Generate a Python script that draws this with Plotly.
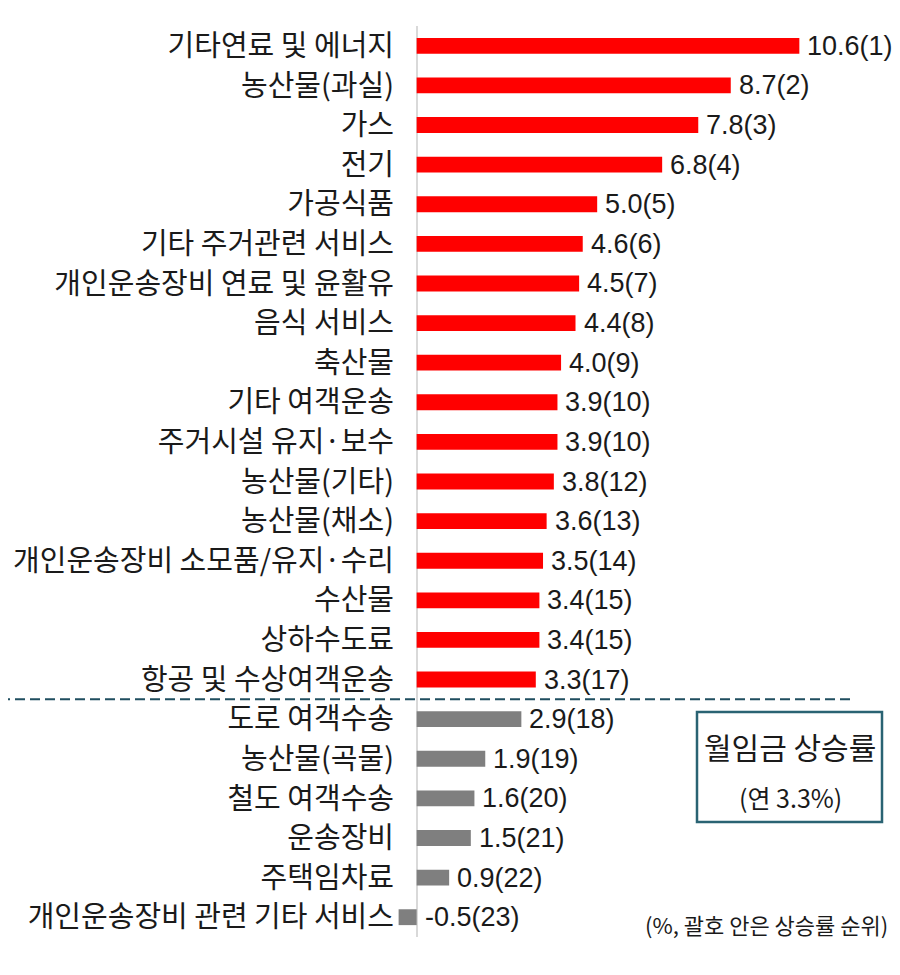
import plotly.graph_objects as go

categories = ["기타연료 및 에너지", "농산물(과실)", "가스", "전기", "가공식품",
              "기타 주거관련 서비스", "개인운송장비 연료 및 윤활유", "음식 서비스", "축산물",
              "기타 여객운송", "주거시설 유지·보수", "농산물(기타)", "농산물(채소)",
              "개인운송장비 소모품/유지·수리", "수산물", "상하수도료", "항공 및 수상여객운송",
              "도로 여객수송", "농산물(곡물)", "철도 여객수송", "운송장비", "주택임차료",
              "개인운송장비 관련 기타 서비스"]
values = [10.6, 8.7, 7.8, 6.8, 5.0, 4.6, 4.5, 4.4, 4.0, 3.9, 3.9, 3.8, 3.6,
          3.5, 3.4, 3.4, 3.3, 2.9, 1.9, 1.6, 1.5, 0.9, -0.5]
ranks = [1, 2, 3, 4, 5, 6, 7, 8, 9, 10, 10, 12, 13, 14, 15, 15, 17, 18, 19, 20, 21, 22, 23]
above_wage = [True] * 17 + [False] * 6

colors = ["#FF0000" if a else "#7F7F7F" for a in above_wage]

# page geometry (page has an 8px body offset)
OFF = 8
PL, PR, PT, PB = 395, 886, 26, 937  # plot area in page pixels
PW, PH = PR - PL, PB - PT

def px(x):
    return (x - PL) / PW

def py(y):
    return (PB - y) / PH

fig = go.Figure()
fig.add_trace(go.Bar(
    x=values, y=categories, orientation="h",
    marker=dict(color=colors, line=dict(width=0)),
    width=0.4, hoverinfo="skip"
))

for c, v, r in zip(categories, values, ranks):
    fig.add_annotation(x=max(v, 0), y=c, xref="x", yref="y",
                       text=f"{v:.1f}({r})", showarrow=False,
                       xanchor="left", yanchor="middle", xshift=6,
                       font=dict(size=27, color="#1a1a1a",
                                 family="Liberation Sans, Arial, Noto Sans CJK KR"))

# dashed separator between rank 17 and 18
fig.add_shape(type="line", xref="paper", yref="y",
              x0=px(0), x1=px(855), y0=16.5, y1=16.5,
              line=dict(color="#1F4E5F", width=2, dash="10px,5px"))

# wage growth box
fig.add_shape(type="rect", xref="paper", yref="paper",
              x0=px(697), x1=px(882), y0=py(822), y1=py(712),
              line=dict(color="#2A6373", width=2.5), fillcolor="white")
fig.add_annotation(xref="paper", yref="paper", x=px(790), y=py(746),
                   xanchor="center", yanchor="middle",
                   text="월임금 상승률", showarrow=False,
                   font=dict(size=30, color="#1a1a1a", family="Noto Sans CJK KR"))
fig.add_annotation(xref="paper", yref="paper", x=px(790), y=py(797),
                   xanchor="center", yanchor="middle",
                   text="(연 3.3%)", showarrow=False,
                   font=dict(size=25, color="#1a1a1a", family="Noto Sans CJK KR"))
fig.add_annotation(xref="paper", yref="paper", x=px(890), y=py(924),
                   xanchor="right", yanchor="middle",
                   text="(%, 괄호 안은 상승률 순위)", showarrow=False,
                   font=dict(size=22, color="#1a1a1a", family="Noto Sans CJK KR"))

fig.update_layout(
    width=900, height=975,
    margin=dict(l=PL - OFF, r=900 - (PR - OFF), t=PT - OFF, b=975 - (PB - OFF)),
    plot_bgcolor="white", paper_bgcolor="white",
    showlegend=False,
    xaxis=dict(range=[-0.6, 13.0], showgrid=False, showticklabels=False,
               zeroline=True, zerolinecolor="#D9D9D9", zerolinewidth=1.5,
               showline=False, ticks="", automargin=False),
    yaxis=dict(autorange=False, range=[22.5, -0.5], categoryorder="array",
               categoryarray=categories, showgrid=False, showline=False,
               ticks="", automargin=False,
               tickfont=dict(size=29, color="#1a1a1a", family="Noto Sans CJK KR")),
)

fig.write_html("out.html")
